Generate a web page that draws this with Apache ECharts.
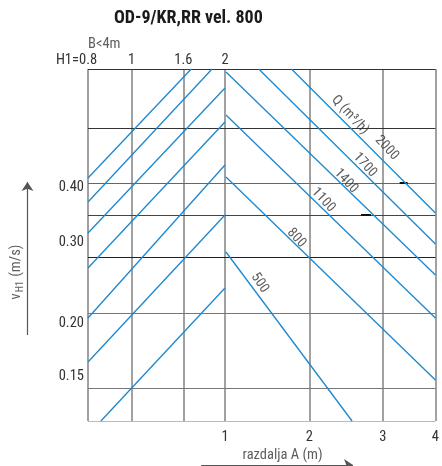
<!DOCTYPE html>
<html><head><meta charset="utf-8">
<script src="https://cdn.jsdelivr.net/npm/echarts@6/dist/echarts.min.js"></script>
<style>html,body{margin:0;padding:0;background:#fff}#c{width:442px;height:466px}</style>
</head><body><div id="c"></div><script>
// Nomogram units: horizontal position 0..350, vertical position 0..352
const xVerticals = [0, 44, 96, 138, 223, 297, 350];
const yHorizontals = [0, 33, 108, 164, 206, 238, 293, 352];
const h1Ticks = [0, 44, 96, 138];
const h1Labels = ['H1=0.8', '1', '1.6', '2'];
const aTicks = [138, 223, 297, 350];
const aLabels = ['1', '2', '3', '4'];
const vTicks = [234, 179, 98, 45];
const vLabels = ['0.40', '0.30', '0.20', '0.15'];
const qNames = ['500', '800', '1100', '1400', '1700', '2000'];
const qStart = [[139,169],[139,244],[139,306],[139,349],[172,352],[205,352]];
const qEnd   = [[266,0],[350,41],[350,103],[350,146],[350,177],[350,208]];
const qLabelPos = [[173,138],[210,183],[237,221],[260,240],[279,256],[301,273]];
const qUnitPos = [264, 306];
const h1Start = [[0,243],[0,219],[0,188],[0,153],[0,103],[0,59],[13,0]];
const h1End   = [[104,352],[125,352],[138,333],[138,299],[138,256],[138,206],[138,133]];
const markSegs = [[[314,238],[322,238]], [[275,206],[285,206]]];
const bTextPos = [0, 377];
const aNamePos = [196, -34];
const vNamePos = [-72, 149];
const yArrow = [[-61, 86], [-61, 239]];
const xArrow = [[114, -44], [267, -44]];

const FONT = "'Liberation Sans Narrow', 'Roboto Condensed', 'Liberation Sans', sans-serif";
const FS = 14.5;
const hColors = ['#777','#777','#777','#222','#444','#666','#333','#333'];
const BLUE = '#1b87cf';

const chart = echarts.init(document.getElementById('c'), null, {renderer: 'canvas'});
const seg = (a, b) => ({coords: [a, b]});
const opt = {
  animation: false,
  title: {
    text: 'OD-9/KR,RR vel. 800', left: 114, top: 9, padding: 0,
    textStyle: {fontFamily: FONT, fontSize: 18, fontWeight: 'bold', color: '#1a1a1a'}
  },
  grid: {left: 88, right: 4, top: 69, bottom: 45, containLabel: false},
  xAxis: [{
    type: 'value', min: 0, max: 350, position: 'bottom',
    axisLine: {show: false}, axisTick: {show: false}, splitLine: {show: false},
    axisLabel: {customValues: aTicks, formatter: v => aLabels[aTicks.indexOf(v)],
      margin: 9, fontFamily: FONT, fontSize: FS, color: '#333'}
  }, {
    type: 'value', min: 0, max: 350, position: 'top',
    axisLine: {show: false}, axisTick: {show: false}, splitLine: {show: false},
    axisLabel: {customValues: h1Ticks,
      formatter: v => { const i = h1Ticks.indexOf(v); return i === 0 ? '{h|' + h1Labels[i] + '}' : h1Labels[i]; },
      rich: {h: {fontFamily: FONT, fontSize: FS, color: '#333', padding: [0, 23, 0, 0]}},
      margin: 1, fontFamily: FONT, fontSize: FS, color: '#333'}
  }],
  yAxis: [{
    type: 'value', min: 0, max: 352,
    axisLine: {show: false}, axisTick: {show: false}, splitLine: {show: false},
    axisLabel: {customValues: vTicks, formatter: v => vLabels[vTicks.indexOf(v)],
      margin: 4, fontFamily: FONT, fontSize: FS, color: '#333'}
  }],
  series: [
    {type: 'lines', coordinateSystem: 'cartesian2d', silent: true, z: 1,
      lineStyle: {color: '#8a8a8a', width: 1.6, opacity: 1},
      data: xVerticals.map(x => seg([x, 0], [x, 352]))},
    {type: 'lines', coordinateSystem: 'cartesian2d', silent: true, z: 1,
      lineStyle: {width: 1.1, opacity: 1},
      data: yHorizontals.map((y, i) => ({coords: [[0, y], [350, y]], lineStyle: {color: hColors[i]}}))},
    {type: 'lines', coordinateSystem: 'cartesian2d', silent: true, z: 2,
      lineStyle: {color: '#111', width: 2, opacity: 1},
      data: markSegs.map(s => seg(s[0], s[1]))},
    {type: 'lines', coordinateSystem: 'cartesian2d', silent: true, z: 3,
      lineStyle: {color: BLUE, width: 1.3, opacity: 1},
      data: qStart.map((s, i) => seg(s, qEnd[i])).concat(h1Start.map((s, i) => seg(s, h1End[i])))},
    {type: 'scatter', symbolSize: 0, silent: true, z: 4, clip: false,
      data: qLabelPos.map((p, i) => ({value: p, name: qNames[i],
        label: {rotate: i === 0 ? -56 : -47}})).concat([{value: qUnitPos, name: 'Q (m³/h)', label: {rotate: -47}}]),
      label: {show: true, position: 'inside', formatter: p => p.name,
        fontFamily: FONT, fontSize: 14, color: '#333'}},
    {type: 'scatter', symbolSize: 0, silent: true, z: 4, clip: false,
      data: [
        {value: bTextPos, name: 'B<4m', label: {align: 'left'}},
        {value: aNamePos, name: 'razdalja A (m)'},
        {value: vNamePos, name: '{a|v}{b|H1}{a| (m/s)}', label: {rotate: 90}}
      ],
      label: {show: true, position: 'inside', formatter: p => p.name,
        fontFamily: FONT, fontSize: FS, color: '#333',
        rich: {a: {fontFamily: FONT, fontSize: FS, color: '#333', lineHeight: 17},
               b: {fontFamily: FONT, fontSize: 10, color: '#333', verticalAlign: 'bottom', lineHeight: 17, padding: [6, 1, 0, 1]}}}},
    {type: 'lines', coordinateSystem: 'cartesian2d', silent: true, z: 4, clip: false,
      symbol: ['none', 'arrow'], symbolSize: [4, 9],
      lineStyle: {color: '#555', width: 1.2, opacity: 1},
      data: [seg(yArrow[0], yArrow[1]), seg(xArrow[0], xArrow[1])]}
  ]
};
chart.setOption(opt);
</script></body></html>
